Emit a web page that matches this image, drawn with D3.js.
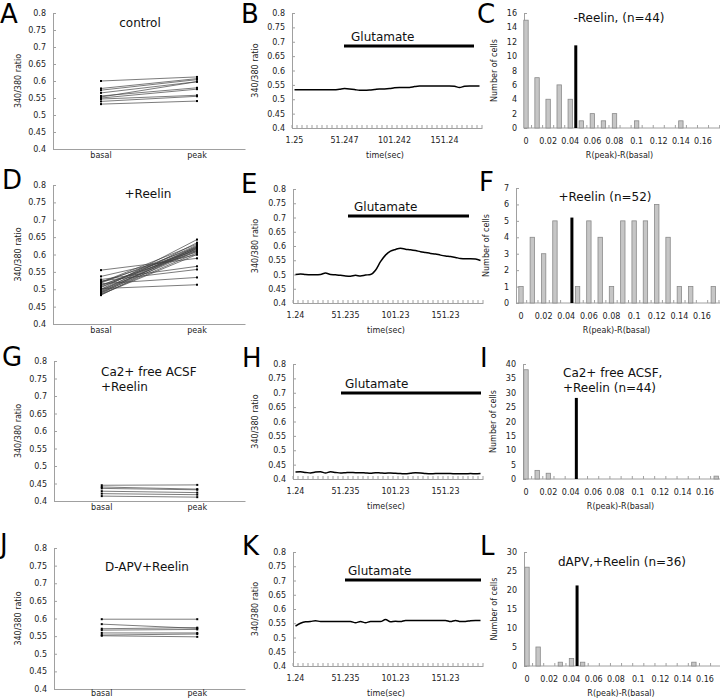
<!DOCTYPE html>
<html><head><meta charset="utf-8">
<script src="https://cdn.jsdelivr.net/npm/d3@7"></script>
<style>body{margin:0;background:#fff}svg{display:block}text{font-family:"DejaVu Sans",Verdana,sans-serif}</style>
</head><body><svg id="c" width="720" height="698"></svg>
<script>
// ---------- data ----------
const pairLabels = ["basal", "peak"];
const ratioTicks = [0.4, 0.45, 0.5, 0.55, 0.6, 0.65, 0.7, 0.75, 0.8];

const controlBasal = [0.600, 0.578, 0.573, 0.565, 0.556, 0.553, 0.550, 0.547, 0.540, 0.532];
const controlPeak  = [0.612, 0.607, 0.604, 0.598, 0.580, 0.598, 0.576, 0.558, 0.555, 0.541];

const reelinBasal = [0.555, 0.537, 0.528, 0.524, 0.521, 0.518, 0.516, 0.512, 0.510, 0.507, 0.505, 0.502, 0.500, 0.499, 0.497, 0.495, 0.493, 0.491, 0.490, 0.488, 0.486, 0.485, 0.483, 0.520];
const reelinPeak  = [0.589, 0.600, 0.566, 0.557, 0.612, 0.622, 0.534, 0.608, 0.619, 0.615, 0.627, 0.513, 0.643, 0.620, 0.612, 0.634, 0.617, 0.625, 0.610, 0.622, 0.605, 0.600, 0.618, 0.630];

const caFreeBasal = [0.445, 0.440, 0.436, 0.428, 0.421, 0.414];
const caFreePeak  = [0.446, 0.434, 0.432, 0.424, 0.418, 0.411];

const apvBasal = [0.598, 0.584, 0.571, 0.567, 0.559, 0.553, 0.551];
const apvPeak  = [0.598, 0.572, 0.574, 0.569, 0.559, 0.556, 0.548];

const timeLabelsB = ["1.25", "51.247", "101.242", "151.24"];
const timeLabels  = ["1.24", "51.235", "101.23", "151.23"];
const timeLabelIdx = [0, 10, 20, 30];

const traceB = [0.533,0.533,0.533,0.533,0.533,0.533,0.533,0.533,0.533,0.535,0.537,0.536,0.534,0.531,0.531,0.532,0.534,0.536,0.536,0.537,0.540,0.541,0.541,0.541,0.544,0.546,0.546,0.546,0.546,0.546,0.546,0.546,0.545,0.541,0.545,0.546,0.546,0.546];
const traceE = [0.500,0.502,0.500,0.499,0.499,0.500,0.505,0.500,0.499,0.497,0.495,0.494,0.497,0.495,0.498,0.500,0.515,0.545,0.568,0.582,0.588,0.592,0.589,0.587,0.584,0.580,0.577,0.574,0.572,0.568,0.565,0.563,0.560,0.556,0.555,0.555,0.554,0.549];
const traceH = [0.424,0.425,0.423,0.421,0.424,0.425,0.421,0.425,0.423,0.421,0.422,0.423,0.422,0.422,0.421,0.420,0.422,0.421,0.420,0.421,0.420,0.419,0.418,0.420,0.422,0.421,0.419,0.418,0.419,0.419,0.419,0.419,0.418,0.418,0.418,0.419,0.418,0.419];
const traceK = [0.540,0.550,0.555,0.556,0.559,0.556,0.556,0.556,0.556,0.556,0.556,0.556,0.552,0.556,0.552,0.556,0.556,0.556,0.563,0.555,0.557,0.556,0.560,0.560,0.560,0.560,0.560,0.560,0.560,0.560,0.560,0.556,0.560,0.556,0.556,0.559,0.560,0.560];

const bins = [0,0.01,0.02,0.03,0.04,0.05,0.06,0.07,0.08,0.09,0.10,0.11,0.12,0.13,0.14,0.15,0.16,0.17];
const binLabelVals = [0,0.02,0.04,0.06,0.08,0.10,0.12,0.14,0.16];
const binLabels = ["0","0.02","0.04","0.06","0.08","0.1","0.12","0.14","0.16"];

const countsC = [15,7,4,6,4,1,2,1,2,0,1,0,0,0,1,0,0,0];
const countsF = [1,4,3,5,0,1,5,4,1,5,5,5,6,4,1,1,0,1];
const countsI = [38,3,2,0,0,0,0,0,0,0,0,0,0,0,0,0,0,1];
const countsL = [26,5,0,1,2,1,0,0,0,0,0,0,0,0,0,1,0,0];

const ticksC = [0,2,4,6,8,10,12,14,16];
const ticksF = [0,1,2,3,4,5,6,7];
const ticksI = [0,5,10,15,20,25,30,35,40];
const ticksL = [0,5,10,15,20,25,30];

const threshold = 0.045;
const thrTopC = 11.5, thrTopF = 5.2, thrTopI = 28.2, thrTopL = 21.2;

// ---------- drawing ----------
const svg = d3.select("#c");
const AX = "#a0a0a0", TXT = "#222";

function styleAxis(sel) {
  sel.select(".domain").attr("stroke", AX);
  sel.selectAll(".tick line").attr("stroke", AX);
  sel.selectAll(".tick text").attr("fill", TXT).attr("font-size", 8).attr("font-family", "DejaVu Sans, sans-serif");
}
function label(x, y, t, opt = {}) {
  const e = svg.append("text").attr("x", x).attr("y", y).text(t)
    .attr("font-size", opt.fs || 12).attr("fill", opt.fill || "#111")
    .attr("text-anchor", opt.anchor || "start");
  if (opt.family) e.attr("font-family", opt.family);
  if (opt.rot) e.attr("transform", `rotate(-90,${x},${y})`);
  return e;
}
function letter(x, y, t) {
  label(x, y, t, { fs: 26, fill: "#000", family: "Liberation Sans, Arial, sans-serif" });
}

function pairPanel(o) {
  const y = d3.scaleLinear().domain([0.4, 0.8]).range([o.yb, o.yt]);
  const x = d3.scaleBand().domain(pairLabels).range([o.x0, o.x1]);
  const ya = svg.append("g").attr("transform", `translate(${o.x0},0)`)
    .call(d3.axisLeft(y).tickValues(ratioTicks).tickFormat(String).tickSizeInner(-3).tickSizeOuter(0).tickPadding(7));
  styleAxis(ya);
  const xa = svg.append("g").attr("transform", `translate(0,${o.yb})`)
    .call(d3.axisBottom(x).tickSize(0).tickSizeOuter(0).tickPadding(o.xpad));
  styleAxis(xa);
  const cx = k => x(k) + x.bandwidth() / 2;
  const pairs = o.basal.map((b, i) => [b, o.peak[i]]);
  const g = svg.append("g");
  g.selectAll("line").data(pairs).join("line")
    .attr("x1", cx("basal")).attr("x2", cx("peak"))
    .attr("y1", d => y(d[0])).attr("y2", d => y(d[1]))
    .attr("stroke", "#444").attr("stroke-width", 0.7);
  const pts = pairs.flatMap(d => [["basal", d[0]], ["peak", d[1]]]);
  g.selectAll("rect").data(pts).join("rect")
    .attr("x", d => cx(d[0]) - 1).attr("y", d => y(d[1]) - 1)
    .attr("width", 2).attr("height", 2).attr("fill", "#000");
  label(o.tx, (o.yt + o.yb) / 2, "340/380 ratio", { fs: 8, anchor: "middle", rot: true, fill: TXT });
}

function tracePanel(o) {
  const idx = o.trace.map((d, i) => i);
  const x = d3.scaleBand().domain(idx).range([o.x0, o.x1]);
  const xi = d3.scaleLinear().domain([0, idx.length]).range([o.x0, o.x1]);
  const y = d3.scaleLinear().domain([0.4, 0.8]).range([o.yb, o.yt]);
  const ya = svg.append("g").attr("transform", `translate(${o.x0},0)`)
    .call(d3.axisLeft(y).tickValues(ratioTicks).tickFormat(String).tickSizeInner(-3).tickSizeOuter(0).tickPadding(7));
  styleAxis(ya);
  const xa = svg.append("g").attr("transform", `translate(0,${o.yb})`)
    .call(d3.axisBottom(x).tickValues(timeLabelIdx).tickFormat((d, i) => o.labels[i]).tickSize(0).tickSizeOuter(0).tickPadding(9));
  styleAxis(xa);
  svg.append("g").selectAll("line").data(idx.concat([idx.length])).join("line")
    .attr("x1", d => xi(d)).attr("x2", d => xi(d))
    .attr("y1", o.yb).attr("y2", o.yb - 3).attr("stroke", AX);
  const line = d3.line().x((d, i) => x(i) + x.bandwidth() / 2).y(d => y(d)).curve(d3.curveMonotoneX);
  svg.append("path").datum(o.trace).attr("d", line).attr("fill", "none").attr("stroke", "#000").attr("stroke-width", 1.5);
  svg.append("line").attr("x1", xi(o.barFrom)).attr("x2", xi(o.barTo)).attr("y1", y(o.barVal)).attr("y2", y(o.barVal))
    .attr("stroke", "#000").attr("stroke-width", 3);
  label(xi(o.barFrom) + o.textDx, y(o.barVal) - 5, "Glutamate", { fs: 12 });
  label(o.tx, (o.yt + o.yb) / 2, "340/380 ratio", { fs: 8, anchor: "middle", rot: true, fill: TXT });
  label((o.x0 + o.x1) / 2 - 2, o.yb + 30, "time(sec)", { fs: 8, anchor: "middle", fill: TXT });
}

function histPanel(o) {
  const x = d3.scaleLinear().domain([0, 0.16]).range([o.c0, o.c16]);
  const y = d3.scaleLinear().domain([0, o.ymax]).range([o.yb, o.yt]);
  const ya = svg.append("g").attr("transform", `translate(${o.x0},0)`)
    .call(d3.axisLeft(y).tickValues(o.ticks).tickFormat(String).tickSizeInner(-3).tickSizeOuter(0).tickPadding(7));
  styleAxis(ya);
  svg.append("line").attr("x1", o.x0).attr("x2", o.x1).attr("y1", o.yb).attr("y2", o.yb).attr("stroke", AX);
  svg.append("g").selectAll("line").data(bins).join("line")
    .attr("x1", d => x(d + 0.005)).attr("x2", d => x(d + 0.005))
    .attr("y1", o.yb).attr("y2", o.yb - 3).attr("stroke", AX);
  svg.append("g").selectAll("text").data(binLabelVals).join("text")
    .attr("x", d => x(d)).attr("y", o.yb + 16).attr("text-anchor", "middle")
    .attr("font-size", 8).attr("fill", TXT).text((d, i) => binLabels[i]);
  const data = bins.map((b, i) => [b, o.counts[i]]).filter(d => d[1] > 0);
  svg.append("g").selectAll("rect").data(data).join("rect")
    .attr("x", d => x(d[0]) - 2.2).attr("width", 4.4)
    .attr("y", d => y(d[1])).attr("height", d => o.yb - y(d[1]))
    .attr("fill", "#c6c6c6").attr("stroke", "#8a8a8a").attr("stroke-width", 0.8);
  svg.append("line").attr("x1", x(threshold)).attr("x2", x(threshold))
    .attr("y1", y(o.thrTop)).attr("y2", o.yb).attr("stroke", "#000").attr("stroke-width", 3);
  label(o.x0 - 27, (o.yt + o.yb) / 2, "Number of cells", { fs: 8, anchor: "middle", rot: true, fill: TXT });
  label((o.c0 + o.c16) / 2 + 5, o.yb + 30, "R(peak)-R(basal)", { fs: 8, anchor: "middle", fill: TXT });
}

// Row 1
letter(0, 23, "A");
pairPanel({ x0: 53, x1: 245, yt: 13, yb: 149, basal: controlBasal, peak: controlPeak, tx: 21, xpad: 3 });
label(140, 27, "control", { anchor: "middle" });
letter(241, 23, "B");
tracePanel({ x0: 292, x1: 482, yt: 13, yb: 128, trace: traceB, labels: timeLabelsB, barFrom: 10.4, barTo: 36.4, barVal: 0.685, textDx: 7, tx: 258 });
letter(477, 23, "C");
histPanel({ x0: 524, x1: 720, c0: 526, c16: 703, yt: 13, yb: 128, ymax: 16, ticks: ticksC, counts: countsC, thrTop: thrTopC });
label(619, 22, "-Reelin, (n=44)", { anchor: "middle" });

// Row 2
letter(2, 189, "D");
pairPanel({ x0: 53, x1: 245, yt: 185, yb: 324, basal: reelinBasal, peak: reelinPeak, tx: 21, xpad: 3 });
label(148, 198, "+Reelin", { anchor: "middle" });
letter(241, 193, "E");
tracePanel({ x0: 293, x1: 483, yt: 189, yb: 303, trace: traceE, labels: timeLabels, barFrom: 11, barTo: 35.2, barVal: 0.705, textDx: 6, tx: 258 });
letter(479, 191, "F");
histPanel({ x0: 516, x1: 720, c0: 521, c16: 702, yt: 188, yb: 303, ymax: 7, ticks: ticksF, counts: countsF, thrTop: thrTopF });
label(605, 201, "+Reelin (n=52)", { anchor: "middle" });

// Row 3
letter(2, 366, "G");
pairPanel({ x0: 54, x1: 245, yt: 361, yb: 501, basal: caFreeBasal, peak: caFreePeak, tx: 21, xpad: 3 });
label(101, 376, "Ca2+ free ACSF");
label(101, 391, "+Reelin");
letter(242, 367, "H");
tracePanel({ x0: 293, x1: 483, yt: 364, yb: 479, trace: traceH, labels: timeLabels, barFrom: 9.6, barTo: 37.6, barVal: 0.699, textDx: 4, tx: 258 });
letter(480, 367, "I");
histPanel({ x0: 523, x1: 720, c0: 526, c16: 705, yt: 364, yb: 479, ymax: 40, ticks: ticksI, counts: countsI, thrTop: thrTopI });
label(563, 377, "Ca2+ free ACSF,");
label(563, 392, "+Reelin (n=44)");

// Row 4
letter(0, 553, "J");
pairPanel({ x0: 54, x1: 245, yt: 548, yb: 689, basal: apvBasal, peak: apvPeak, tx: 21, xpad: 1 });
label(147, 571, "D-APV+Reelin", { anchor: "middle" });
letter(242, 555, "K");
tracePanel({ x0: 293, x1: 483, yt: 552, yb: 666, trace: traceK, labels: timeLabels, barFrom: 10.4, barTo: 37.6, barVal: 0.702, textDx: 3, tx: 258 });
letter(480, 555, "L");
histPanel({ x0: 524, x1: 720, c0: 527, c16: 705, yt: 552, yb: 666, ymax: 30, ticks: ticksL, counts: countsL, thrTop: thrTopL });
label(622, 566, "dAPV,+Reelin (n=36)", { anchor: "middle" });
</script></body></html>
